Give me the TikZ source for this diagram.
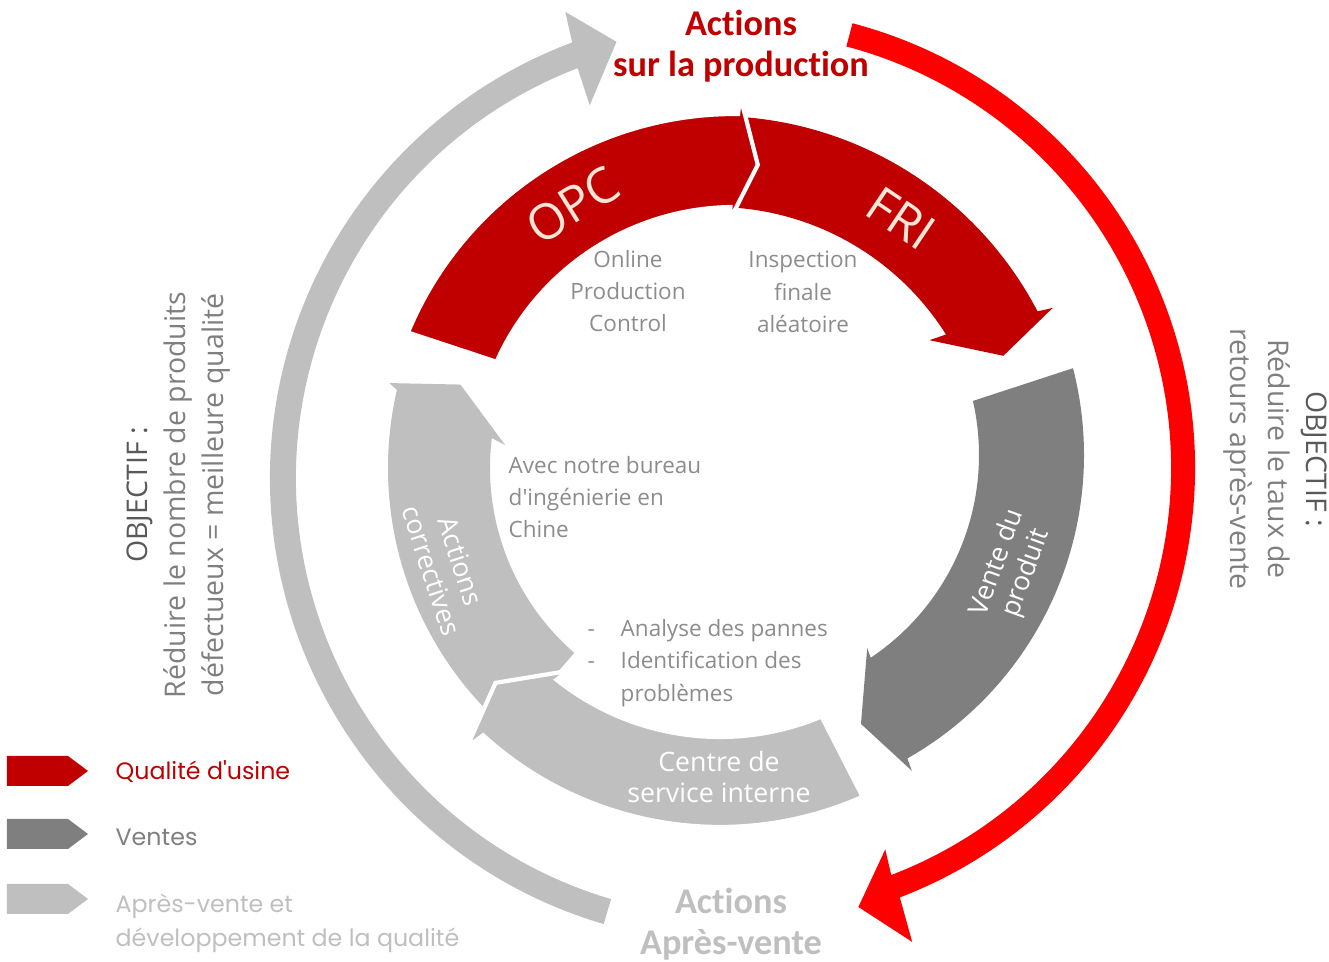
\documentclass[tikz,border=0pt]{standalone}
\usepackage{fontspec}
\setmainfont{Open Sans}
\newfontfamily\headfont{Carlito}[Ligatures=NoCommon]
\newfontfamily\keyfont{Poppins}
\usepackage{tikz}
\usetikzlibrary{calc}
\definecolor{usine}{HTML}{C00000}
\definecolor{vif}{HTML}{FF0000}
\definecolor{ventes}{HTML}{7F7F7F}
\definecolor{apres}{HTML}{BFBFBF}
\definecolor{creme}{HTML}{FBE5D6}
\definecolor{notegris}{HTML}{8C8C8C}
\definecolor{obj}{HTML}{595959}
\tikzset{
  over/.style={draw=white, line width=1.2pt, line join=miter},
  head/.style={font=\headfont\bfseries\fontsize{10.3}{11.7}\selectfont, align=center},
  bandlab/.style={text=creme, font=\fontsize{14}{16}\selectfont},
  inband/.style={text=white, align=center, font=\fontsize{7.6}{8.8}\selectfont},
  note/.style={text=notegris, inner sep=0pt, font=\fontsize{6.4}{9.2}\selectfont},
  goal/.style={align=center, text=ventes, font=\fontsize{8.1}{10.8}\selectfont},
  key/.style={anchor=west, align=left, inner sep=0pt, font=\keyfont\fontsize{6.75}{9.7}\selectfont},
}

\begin{document}
\begin{tikzpicture}[x=0.01cm,y=0.01cm]
  \useasboundingbox (0,0) rectangle (1329,-962);
  \coordinate (C) at (735,-468);
  \coordinate (G) at (735,-478);
  \coordinate (F) at (715,-480);
  \coordinate (V) at (735,-455);
  \coordinate (E) at (720,-475);

  % grandes fleches
  \fill[apres, shift={(G)}] (253.6:465) arc[start angle=253.6, end angle=110.5, radius=465]
    -- (110:496) -- (105.2:452) -- (111.3:400) -- (111:439)
    arc[start angle=111, end angle=253.6, radius=439] -- cycle;
  \fill[vif, shift={(C)}] (75.2:460) arc[start angle=75.2, end angle=-69, radius=460]
    -- (-69.5:506) -- (-74.3:456) -- (-68.5:410) -- (-69:436)
    arc[start angle=-69, end angle=75.2, radius=436] -- cycle;

  % cycle interieur
  \fill[usine, shift={(F)}] (86:364) arc[start angle=86, end angle=27.6, radius=364]
    -- (27:379) -- (23.3:314) -- (33.1:256) -- (32.2:273)
    arc[start angle=32.2, end angle=86, radius=273] -- cycle;
  \filldraw[usine, over, shift={(C)}] (157.5:354) arc[start angle=157.5, end angle=89.5, radius=354]
    -- (89.2:372) -- (85.7:304) -- (91.2:248) -- (91:261)
    arc[start angle=91, end angle=156, radius=261] -- cycle;
  \fill[ventes, shift={(V)}] (14.4:349) arc[start angle=14.4, end angle=-60.4, radius=349]
    -- (-60.75:362) -- (-64.9:297) -- (-55.6:234) -- (-56.2:244)
    arc[start angle=-56.2, end angle=12.8, radius=244] -- cycle;
  \fill[apres, shift={(C)}] (229:347) arc[start angle=229, end angle=167, radius=347]
    -- (166.2:356) -- (163.1:287) -- (174.3:231) -- (173:245)
    arc[start angle=173, end angle=229, radius=245] -- cycle;
  \filldraw[apres, over, shift={(E)}] (293.9:352) arc[start angle=293.9, end angle=227.7, radius=352]
    -- (227.1:372) -- (222.8:306) -- (232.2:248) -- (231.4:262)
    arc[start angle=231.4, end angle=292.8, radius=262] -- cycle;

  % textes
  \node[head, text=usine] (prod) at (741,-46) {Actions\\sur la production};
  \node[head, text=apres] (apv) at (731,-924) {Actions\\Après-vente};
  \node[bandlab, rotate=32] (opc) at (573,-205) {OPC};
  \node[bandlab, rotate=-34] (fri) at (901,-218) {FRI};
  \node[inband, rotate=70] (vente) at (1012,-568) {Vente du\\produit};
  \node[inband, rotate=-72] (corr) at (446,-566) {Actions\\correctives};
  \node[inband] (centre) at (719,-777) {Centre de\\service interne};
  \node[note, align=center] (opcnote) at (628,-291) {Online\\Production\\Control};
  \node[note, align=center] (frinote) at (803,-292) {Inspection\\finale\\aléatoire};
  \node[note, align=left, anchor=west] (bureau) at (508,-497)
    {Avec notre bureau\\d\textquotesingle ingénierie en\\Chine};
  \node[note, align=left, anchor=west] (pannes) at (587,-663)
    {\makebox[0.33cm][l]{-}Analyse des pannes\\\makebox[0.33cm][l]{-}Identification des\\\hspace*{0.33cm}problèmes};
  \node[goal, rotate=90] (objg) at (179,-495)
    {\textcolor{obj}{OBJECTIF :}\\Réduire le nombre de produits\\défectueux = meilleure qualité};
  \node[goal, rotate=-90] (objd) at (1275,-459)
    {\textcolor{obj}{OBJECTIF :}\\Réduire le taux de\\retours après-vente};

  % legende
  \foreach \yy/\cc in {771/usine, 834/ventes, 899/apres}
    \fill[\cc] (7,{15-\yy}) -- (68,{15-\yy}) -- (88,-\yy) -- (68,{-15-\yy}) -- (7,{-15-\yy}) -- cycle;
  \node[key, text=usine] (kusine) at (115,-772) {Qualité d\textquotesingle usine};
  \node[key, text=ventes] (kventes) at (115,-837) {Ventes};
  \node[key, text=apres] (kapres) at (115,-923) {Après-vente et\\développement de la qualité};
\end{tikzpicture}
\end{document}
